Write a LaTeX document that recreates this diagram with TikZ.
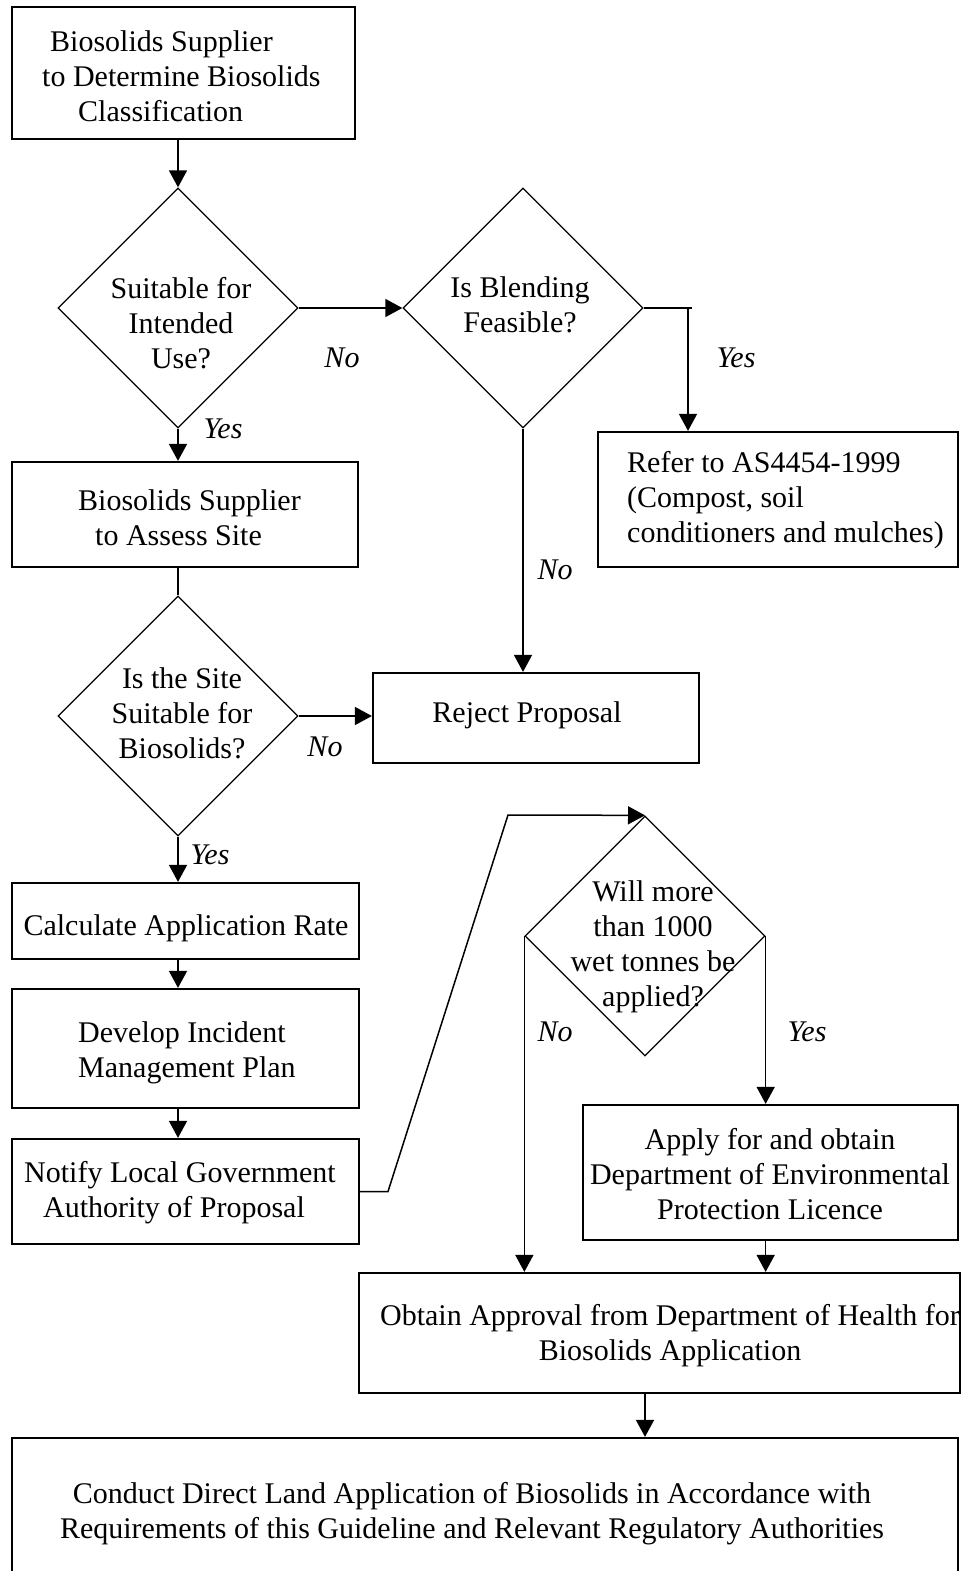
\documentclass[tikz,border=0pt]{standalone}
\usepackage{fontspec}
\setmainfont{Liberation Serif}
\usetikzlibrary{shapes.geometric,arrows.meta}
\begin{document}
\begin{tikzpicture}[x=1pt,y=-1pt,
  box/.style={draw,line width=2.2pt,inner sep=0pt,rectangle},
  dia/.style={draw,diamond,shape aspect=1,line width=1.3pt,minimum width=240pt,minimum height=240pt,inner sep=0pt},
  txt/.style={font=\fontsize{30}{35}\selectfont,align=center,inner sep=0pt,yshift=-3pt},
  ltxt/.style={font=\fontsize{30}{35}\selectfont,align=left,inner sep=0pt,anchor=west,yshift=-3pt},
  lbl/.style={font=\fontsize{30}{35}\selectfont\itshape,inner sep=0pt,yshift=-2pt},
  ln/.style={line width=1.5pt},
  arr/.style={line width=1.5pt,-{Triangle[length=17pt,width=18pt]}}]
\clip (0,0) rectangle (963,1571);
\useasboundingbox (0,0) rectangle (963,1571);
% boxes
\node[box,minimum width=343pt,minimum height=132pt] (box1) at (183.5,73) {};
\node[box,minimum width=346pt,minimum height=105pt] (box2) at (185,514.5) {};
\node[box,minimum width=360pt,minimum height=135pt] (refer) at (778,499.5) {};
\node[box,minimum width=326pt,minimum height=90pt] (reject) at (536,718) {};
\node[box,minimum width=347pt,minimum height=76pt] (calc) at (185.5,921) {};
\node[box,minimum width=347pt,minimum height=119pt] (develop) at (185.5,1048.5) {};
\node[box,minimum width=347pt,minimum height=105pt] (notify) at (185.5,1191.5) {};
\node[box,minimum width=375pt,minimum height=135pt] (apply) at (770.5,1172.5) {};
\node[box,minimum width=601pt,minimum height=120pt] (obtain) at (659.5,1333) {};
\node[box,minimum width=946pt,minimum height=162pt] (final) at (485,1519) {};
% diamonds
\node[dia] (d1) at (178,308) {};
\node[dia] (d2) at (523,308) {};
\node[dia] (d3) at (178,716) {};
\node[dia] (d4) at (645,936) {};
% texts
\node[ltxt] (t1) at (42,73) {\hspace*{8pt}Biosolids Supplier\\to Determine Biosolids\\\hspace*{36pt}Classification};
\node[ltxt] (t2) at (78,515) {Biosolids Supplier\\\hspace*{17pt}to Assess Site};
\node[ltxt] (tr) at (627,497) {Refer to AS4454-1999\\(Compost, soil\\conditioners and mulches)};
\node[txt] (tj) at (527,712) {Reject Proposal};
\node[txt] (tc) at (186,925) {Calculate Application Rate};
\node[ltxt] (td) at (78,1050) {Develop Incident\\Management Plan};
\node[ltxt] (tn) at (24,1190) {Notify Local Government\\\hspace*{19pt}Authority of Proposal};
\node[txt] (ta) at (770,1171) {Apply for and obtain\\Department of Environmental\\Protection Licence};
\node[txt] (to) at (670,1333) {Obtain Approval from Department of Health for\\Biosolids Application};
\node[txt] (tf) at (472,1511) {Conduct Direct Land Application of Biosolids in Accordance with\\Requirements of this Guideline and Relevant Regulatory Authorities};
\node[txt] (td1) at (181,320) {Suitable for\\Intended\\Use?};
\node[txt] (td2) at (520,302) {Is Blending\\Feasible?};
\node[txt] (td3) at (182,710) {Is the Site\\Suitable for\\Biosolids?};
\node[txt] (td4) at (653,944) {Will more\\than 1000\\wet tonnes be\\applied?};
% labels
\node[lbl] (l1) at (342,356) {No};
\node[lbl] (l2) at (223,427) {Yes};
\node[lbl] (l3) at (736,356) {Yes};
\node[lbl] (l4) at (555,568) {No};
\node[lbl] (l5) at (325,745) {No};
\node[lbl] (l6) at (210,853) {Yes};
\node[lbl] (l7) at (555,1030) {No};
\node[lbl] (l8) at (807,1030) {Yes};
% connectors
\draw[arr] (d1.north |- box1.south) -- (d1.north);
\draw[arr] (d1.east) -- (d2.west);
\coordinate (r1) at (688,308);
\draw[ln] (d2.east) -- ++(48,0);
\draw[arr] (r1) -- (r1 |- refer.north);
\draw[arr] (d2.south) -- (d2.south |- reject.north);
\draw[arr] (d1.south) -- (d1.south |- box2.north);
\draw[ln] (d3.north |- box2.south) -- (d3.north);
\draw[arr] (d3.east) -- (d3.east -| reject.west);
\draw[arr] (d3.south) -- (d3.south |- calc.north);
\draw[arr] (d3.south |- calc.south) -- (d3.south |- develop.north);
\draw[arr] (d3.south |- develop.south) -- (d3.south |- notify.north);
\coordinate (n1) at (388,1191.5);
\coordinate (n2) at (508,815);
\draw[arr] (notify.east) -- (n1) -- (n2) -- (d4.north);
\draw[arr] (d4.west) -- (d4.west |- obtain.north);
\draw[arr] (d4.east) -- (d4.east |- apply.north);
\draw[arr] (d4.east |- apply.south) -- (d4.east |- obtain.north);
\draw[arr] (d4.south |- obtain.south) -- (d4.south |- final.north);
\end{tikzpicture}
\end{document}
